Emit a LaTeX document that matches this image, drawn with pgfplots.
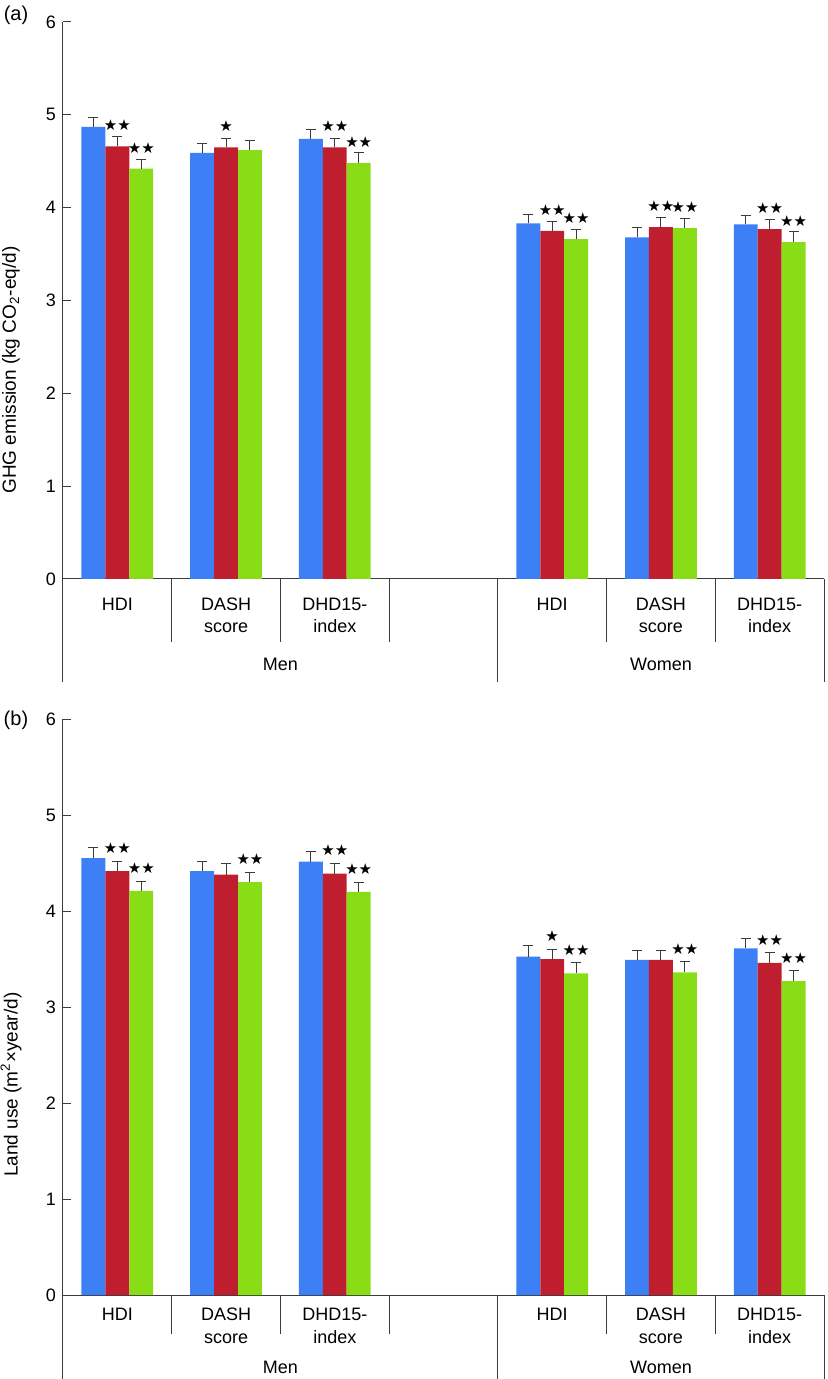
\documentclass[border=0pt]{standalone}
\usepackage{fontspec}
\setmainfont{Liberation Sans}
\newfontfamily\symfont{DejaVu Sans}
\usepackage{pgfplots}
\usepackage{pgfplotstable}
\pgfplotsset{compat=1.18}

\definecolor{cblue}{RGB}{61,127,245}
\definecolor{cred}{RGB}{190,30,46}
\definecolor{cgreen}{RGB}{137,221,23}
\definecolor{caxis}{RGB}{60,60,60}

% star codes: n = none, s = *, d = **
\def\stn{}
\def\sts{★}
\def\std{★★}

% (a) GHG emission
\pgfplotstableread{
x  b    be    r    re    rs  g    ge    gs
0  4.87 0.10  4.66 0.11  d   4.42 0.10  d
1  4.59 0.10  4.65 0.10  s   4.62 0.10  n
2  4.74 0.10  4.65 0.10  d   4.48 0.11  d
4  3.83 0.10  3.75 0.10  d   3.66 0.11  d
5  3.68 0.11  3.79 0.10  d   3.78 0.10  d
6  3.82 0.10  3.77 0.10  d   3.63 0.11  d
}\ghgtab

% (b) land use
\pgfplotstableread{
x  b     be    r     re    rs  g    ge    gs
0  4.55  0.11  4.415 0.105 d   4.21 0.10  d
1  4.415 0.105 4.38  0.11  n   4.30 0.10  d
2  4.515 0.105 4.39  0.11  d   4.20 0.10  d
4  3.525 0.115 3.50  0.10  s   3.35 0.11  d
5  3.49  0.10  3.49  0.10  n   3.36 0.11  d
6  3.61  0.10  3.46  0.11  d   3.27 0.11  d
}\landtab

\tikzset{sepline/.style={draw=caxis, line width=0.5pt}}

\pgfplotsset{
  panel/.style={
    width=380.5pt, scale only axis,
    xmin=-0.5, xmax=6.5, ymin=0, ymax=6,
    axis x line=bottom, axis y line=left,
    axis line style={-, draw=caxis, line width=0.5pt},
    tick align=inside, major tick length=4pt,
    ytick={0,1,...,6},
    ytick style={draw=caxis, line width=0.5pt},
    xtick={0,...,6}, xtick style={draw=none},
    xticklabels={HDI, DASH\\score, DHD15-\\index, {}, HDI, DASH\\score, DHD15-\\index},
    tick label style={font=\fontsize{9}{11}\selectfont},
    /pgf/number format/assume math mode=true,
    ybar=0pt, bar width=0.22,
    clip=false,
    every node near coord/.append style={anchor=south, inner sep=0pt,
      font=\symfont\fontsize{7.5}{8}\selectfont},
    error bars/error bar style={draw=caxis, line width=0.5pt},
    error bars/error mark options={rotate=90, draw=caxis, line width=0.5pt, mark size=2.5pt},
  },
}

\begin{document}
\begin{tikzpicture}
\path[use as bounding box] (-31.5pt,-400pt) rectangle (382pt,289.5pt);

\begin{axis}[panel, height=278.5pt,
  xticklabel style={align=center, anchor=north, inner sep=0pt, yshift=-5.5pt,
    font=\fontsize{9}{11}\selectfont},
  every node near coord/.append style={yshift=7.6pt},
]
\addplot[fill=cblue, draw=none, bar shift=-0.22,
  error bars/.cd, y dir=plus, y explicit]
  table[x=x, y=b, y error=be] {\ghgtab};
\addplot[fill=cred, draw=none, bar shift=0,
  nodes near coords={\csname st\pgfplotspointmeta\endcsname},
  point meta=explicit symbolic,
  error bars/.cd, y dir=plus, y explicit]
  table[x=x, y=r, y error=re, meta=rs] {\ghgtab};
\addplot[fill=cgreen, draw=none, bar shift=0.22,
  nodes near coords={\csname st\pgfplotspointmeta\endcsname},
  point meta=explicit symbolic,
  error bars/.cd, y dir=plus, y explicit]
  table[x=x, y=g, y error=ge, meta=gs] {\ghgtab};

\draw[sepline] (axis cs:-0.5,0) -- ++(0pt,-51.5pt);
\draw[sepline] (axis cs:3.5,0) -- ++(0pt,-51.5pt);
\draw[sepline] (axis cs:6.5,0) -- ++(0pt,-51.5pt);
\draw[sepline] (axis cs:0.5,0) -- ++(0pt,-31.5pt);
\draw[sepline] (axis cs:1.5,0) -- ++(0pt,-31.5pt);
\draw[sepline] (axis cs:2.5,0) -- ++(0pt,-31.5pt);
\draw[sepline] (axis cs:4.5,0) -- ++(0pt,-31.5pt);
\draw[sepline] (axis cs:5.5,0) -- ++(0pt,-31.5pt);
\node[font=\fontsize{9}{11}\selectfont, yshift=-42.5pt] at (axis cs:1.5,0) {Men};
\node[font=\fontsize{9}{11}\selectfont, yshift=-42.5pt] at (axis cs:5,0) {Women};
\node[font=\fontsize{10}{12}\selectfont] at (axis description cs:-0.0618,1.0126) {(a)};
\node[font=\fontsize{9.5}{11}\selectfont, rotate=90, anchor=center]
  at (axis description cs:-0.0683,0.375) {GHG emission (kg CO\textsubscript{2}-eq/d)};
\end{axis}

\begin{axis}[panel, height=288pt, at={(0,-358pt)},
  xticklabel style={align=center, anchor=north, inner sep=0pt, yshift=-2.5pt,
    font=\fontsize{9}{11.5}\selectfont},
  every node near coord/.append style={yshift=8.6pt},
]
\addplot[fill=cblue, draw=none, bar shift=-0.22,
  error bars/.cd, y dir=plus, y explicit]
  table[x=x, y=b, y error=be] {\landtab};
\addplot[fill=cred, draw=none, bar shift=0,
  nodes near coords={\csname st\pgfplotspointmeta\endcsname},
  point meta=explicit symbolic,
  error bars/.cd, y dir=plus, y explicit]
  table[x=x, y=r, y error=re, meta=rs] {\landtab};
\addplot[fill=cgreen, draw=none, bar shift=0.22,
  nodes near coords={\csname st\pgfplotspointmeta\endcsname},
  point meta=explicit symbolic,
  error bars/.cd, y dir=plus, y explicit]
  table[x=x, y=g, y error=ge, meta=gs] {\landtab};

\draw[sepline] (axis cs:-0.5,0) -- ++(0pt,-45pt);
\draw[sepline] (axis cs:3.5,0) -- ++(0pt,-45pt);
\draw[sepline] (axis cs:6.5,0) -- ++(0pt,-45pt);
\draw[sepline] (axis cs:0.5,0) -- ++(0pt,-19.5pt);
\draw[sepline] (axis cs:1.5,0) -- ++(0pt,-19.5pt);
\draw[sepline] (axis cs:2.5,0) -- ++(0pt,-19.5pt);
\draw[sepline] (axis cs:4.5,0) -- ++(0pt,-19.5pt);
\draw[sepline] (axis cs:5.5,0) -- ++(0pt,-19.5pt);
\node[font=\fontsize{9}{11}\selectfont, yshift=-36pt] at (axis cs:1.5,0) {Men};
\node[font=\fontsize{9}{11}\selectfont, yshift=-36pt] at (axis cs:5,0) {Women};
\node[font=\fontsize{10}{12}\selectfont] at (axis description cs:-0.0618,0.998) {(b)};
\node[font=\fontsize{9.5}{11}\selectfont, rotate=90, anchor=center]
  at (axis description cs:-0.0683,0.365) {Land use (m\textsuperscript{2}×year/d)};
\end{axis}
\end{tikzpicture}
\end{document}
